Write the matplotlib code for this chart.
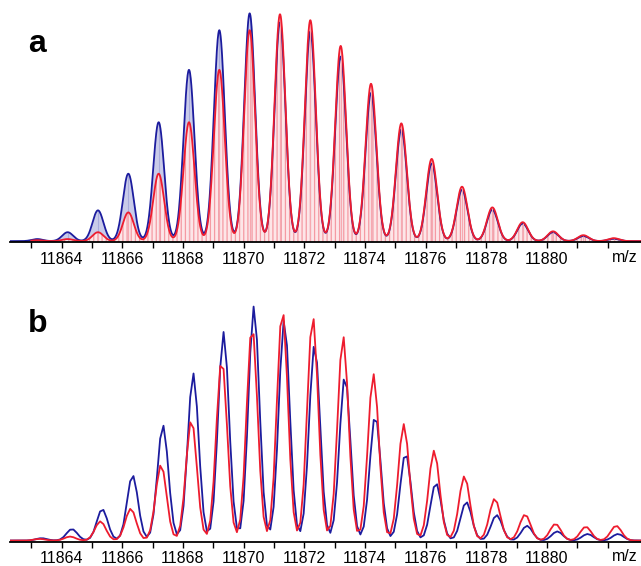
import numpy as np
import matplotlib.pyplot as plt

plt.rcParams['font.family'] = ['Liberation Sans', 'DejaVu Sans']
plt.rcParams['hatch.linewidth'] = 0.9

# isotope peak positions (nominal mass) and relative intensities (%)
nominal = np.arange(11863, 11883)

# panel a: profile spectra, peak apex offset +0.2 from nominal
a_offset = 0.2
a_blue = [0.9, 3.9, 13.5, 29.6, 52.2, 75.2, 92.6, 100.0, 96.0, 92.0,
          81.0, 65.0, 49.0, 34.0, 22.5, 13.8, 7.7, 3.9, 2.2, 1.0]
a_red = [0.4, 0.9, 3.9, 12.6, 29.6, 52.2, 75.2, 92.6, 99.6, 97.0,
         85.7, 69.1, 51.7, 36.1, 23.9, 14.8, 8.3, 4.3, 2.6, 1.3]

# panel b: sampled spectra
b_blue_offset = 0.34
b_red_offset = 0.28
b_blue = [1.0, 4.9, 13.4, 27.9, 49.3, 71.4, 89.0, 100.0, 94.3, 83.8,
          70.4, 53.5, 37.3, 24.6, 16.5, 10.9, 6.3, 3.9, 2.8, 2.8]
b_red = [0.7, 1.7, 8.2, 13.6, 32.4, 51.7, 77.4, 91.5, 98.6, 95.8,
         87.3, 71.1, 49.7, 38.4, 27.5, 17.9, 11.1, 7.1, 5.9, 6.3]

tick_values = list(range(11863, 11883))
tick_labels = [str(v) if v % 2 == 0 and v <= 11880 else '' for v in tick_values]

BLUE = '#1c1c9e'
RED = '#ee1c2e'
SIGMA = 0.18
XMIN, XMAX = 11862.3, 11883.1


def profile(x, centers, heights):
    y = np.zeros_like(x)
    for c, h in zip(centers, heights):
        y += h * np.exp(-0.5 * ((x - c) / SIGMA) ** 2)
    return y


def style_axis(ax, ymax):
    ax.set_xlim(XMIN, XMAX)
    ax.set_ylim(0, ymax)
    for side in ('top', 'right', 'left'):
        ax.spines[side].set_visible(False)
    ax.spines['bottom'].set_linewidth(1.3)
    ax.set_yticks([])
    ax.set_xticks(tick_values)
    ax.set_xticklabels(tick_labels, fontsize=11.5)
    ax.tick_params(axis='x', direction='out', length=4, width=1.0, pad=3)
    ax.annotate('m/z', xy=(0.975, 0), xycoords='axes fraction',
                xytext=(0, -5.5), textcoords='offset points',
                ha='center', va='top', fontsize=11.5)
    ax.patch.set_visible(False)


fig = plt.figure(figsize=(6.41, 5.66), dpi=100)
ax_a = fig.add_axes([0.0156, 0.5724, 0.9844, 0.4064])
ax_b = fig.add_axes([0.0156, 0.0429, 0.9844, 0.4182])

# --- panel a: filled profiles
xa = np.linspace(XMIN, XMAX, 3000)
ya_blue = profile(xa, nominal + a_offset, a_blue) + 0.4
xr = xa[xa >= 11863.0]
ya_red = profile(xr, nominal + a_offset, a_red) + 0.4

ax_a.fill_between(xa, 0, ya_blue, color='#c9cbe9', lw=0)
ax_a.vlines(nominal + a_offset, 0, a_blue, color='#a9acdc', lw=0.8)
ax_a.plot(xa, ya_blue, color=BLUE, lw=1.3)
ax_a.fill_between(xr, 0, ya_red, facecolor='#fde6e8', edgecolor='#f59aa3',
                  hatch='||||', lw=0)
ax_a.vlines(nominal + a_offset, 0, a_red, color='#f7a9b0', lw=0.8)
ax_a.plot(xr, ya_red, color=RED, lw=1.3)
style_axis(ax_a, 101)

# --- panel b: coarse sampled line spectra
xb = np.arange(XMIN, XMAX, 0.11)
yb_blue = profile(xb, nominal + b_blue_offset, b_blue) + 0.5
yb_red = profile(xb, nominal + b_red_offset, b_red) + 0.5
ax_b.plot(xb, yb_blue, color=BLUE, lw=1.3)
ax_b.plot(xb, yb_red, color=RED, lw=1.3)
style_axis(ax_b, 101)

fig.text(0.044, 0.909, 'a', fontsize=23, fontweight='bold', ha='left', va='baseline')
fig.text(0.044, 0.414, 'b', fontsize=23, fontweight='bold', ha='left', va='baseline')

fig.savefig('out.png', dpi=100)
